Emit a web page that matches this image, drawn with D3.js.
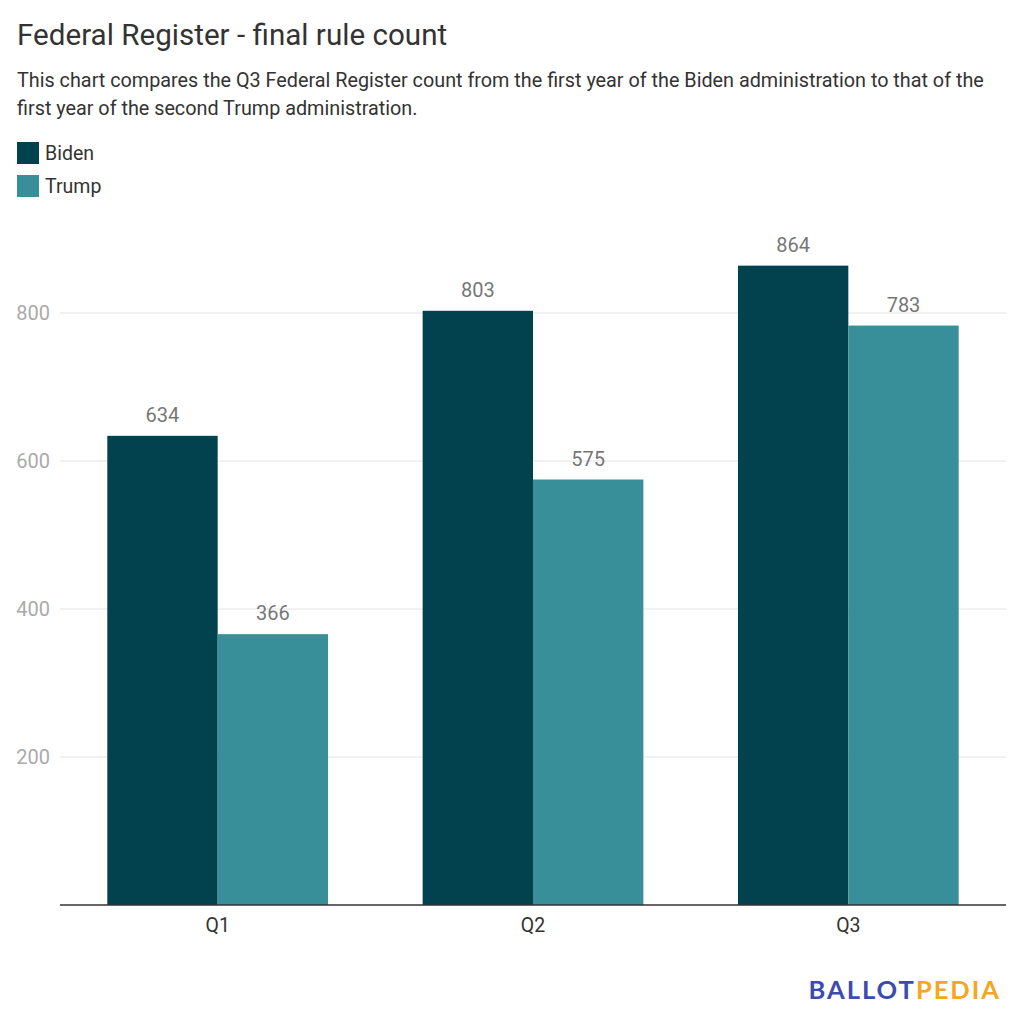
<!DOCTYPE html>
<html><head><meta charset="utf-8">
<script src="https://cdn.jsdelivr.net/npm/d3@7"></script>
<style>
html,body{margin:0;padding:0;background:#fff;}
svg{display:block;font-family:Roboto,"Noto Sans",sans-serif;}
</style></head>
<body>
<svg id="c" width="1024" height="1022"></svg>
<script>
const categories = ["Q1", "Q2", "Q3"];
const seriesNames = ["Biden", "Trump"];
const biden = [634, 803, 864];
const trump = [366, 575, 783];
const yTicks = [200, 400, 600, 800];
const colors = ["#02424f", "#388f99"];

(function () {
const svg = d3.select("#c");
const mLeft = 60, mRight = 1006, mBottom = 905;

svg.append("text").attr("x", 17).attr("y", 45)
  .attr("font-size", 29.6).attr("fill", "#333")
  .text("Federal Register - final rule count");
const sub = ["This chart compares the Q3 Federal Register count from the first year of the Biden administration to that of the",
             "first year of the second Trump administration."];
sub.forEach((s, i) => svg.append("text").attr("x", 17).attr("y", 87 + i * 28)
  .attr("font-size", 19.8).attr("fill", "#333").text(s));

seriesNames.forEach((n, i) => {
  const g = svg.append("g").attr("transform", `translate(17,${142 + i * 33})`);
  g.append("rect").attr("width", 22).attr("height", 22).attr("fill", colors[i]);
  g.append("text").attr("x", 28).attr("y", 18).attr("font-size", 19.5).attr("fill", "#333").text(n);
});

const x = d3.scaleBand().domain(categories).range([mLeft, mRight]).paddingInner(0.3).paddingOuter(0.15);
const xs = d3.scaleBand().domain(seriesNames).range([0, x.bandwidth()]);
const y = d3.scaleLinear().domain([0, 900]).range([mBottom, mBottom - 900 * 0.74]);

svg.append("g").selectAll("line").data(yTicks).join("line")
  .attr("x1", mLeft).attr("x2", mRight)
  .attr("y1", d => y(d)).attr("y2", d => y(d))
  .attr("stroke", "#e3e3e3").attr("stroke-width", 1);

const yAxis = d3.axisLeft(y).tickValues(yTicks).tickSize(0).tickPadding(10);
const ya = svg.append("g").attr("transform", `translate(${mLeft},0)`).call(yAxis);
ya.select(".domain").remove();
ya.selectAll("text").attr("font-size", 20).attr("fill", "#aaa").attr("font-family", "Roboto");

const data = categories.map((c, i) => ({c, vals: [biden[i], trump[i]]}));
const groups = svg.append("g").selectAll("g").data(data).join("g")
  .attr("transform", d => `translate(${x(d.c)},0)`);
groups.selectAll("rect").data(d => d.vals.map((v, j) => ({v, s: seriesNames[j], j})))
  .join("rect")
  .attr("x", d => xs(d.s)).attr("width", xs.bandwidth())
  .attr("y", d => y(d.v)).attr("height", d => y(0) - y(d.v))
  .attr("fill", d => colors[d.j]);
groups.selectAll("text").data(d => d.vals.map((v, j) => ({v, s: seriesNames[j]})))
  .join("text")
  .attr("x", d => xs(d.s) + xs.bandwidth() / 2).attr("y", d => y(d.v) - 14)
  .attr("text-anchor", "middle").attr("font-size", 20).attr("fill", "#777")
  .text(d => d.v);

const xAxis = d3.axisBottom(x).tickSize(0).tickPadding(13);
const xa = svg.append("g").attr("transform", `translate(0,${mBottom})`).call(xAxis);
xa.select(".domain").attr("stroke", "#333").attr("stroke-width", 1.5).attr("d", `M${mLeft},0H${mRight}`);
xa.selectAll("text").attr("font-size", 19.5).attr("fill", "#333").attr("font-family", "Roboto");

const logo = svg.append("text").attr("x", 1001).attr("y", 999).attr("text-anchor", "end")
  .attr("font-size", 25.5).attr("font-weight", "bold").attr("letter-spacing", 2)
  .attr("font-family", "Lato, Roboto, sans-serif");
logo.append("tspan").attr("fill", "#3b4bb0").text("BALLOT");
logo.append("tspan").attr("fill", "#f5a623").text("PEDIA");
})();
</script>
</body></html>
